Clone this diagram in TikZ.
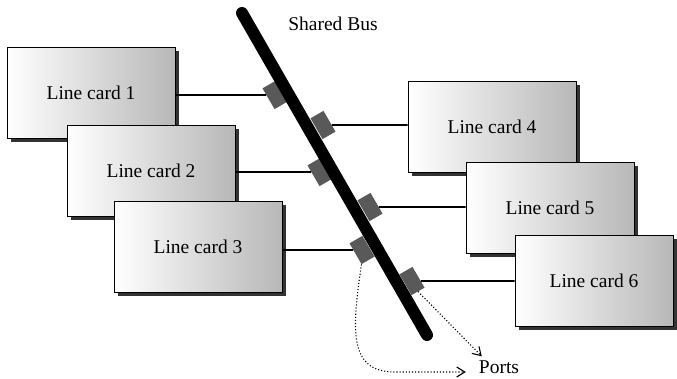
\documentclass[tikz,border=0pt]{standalone}
\usepackage{fontspec}
\setmainfont{Liberation Serif}
\usetikzlibrary{shadows,arrows.meta}
\begin{document}
\begin{tikzpicture}[x=1pt,y=-1pt,
  card/.style={draw=black, line width=0.9pt, minimum width=168pt, minimum height=91pt,
    left color=white, right color=black!28, inner sep=0pt,
    drop shadow={shadow xshift=3.5pt, shadow yshift=-3.5pt, fill=black!80, opacity=1},
    font=\fontsize{19.5}{22}\selectfont},
  tap/.style={fill=black!65, minimum width=15pt, minimum height=24pt, inner sep=0pt, rotate=30},
  link/.style={line width=1.8pt},
  bus/.style={line width=12pt, line cap=round},
  port/.style={dotted, line width=1.1pt, -{Straight Barb[length=8pt,width=10pt]}},
  lbl/.style={font=\fontsize{19.5}{22}\selectfont, inner sep=2pt}]
\useasboundingbox (0,0) rectangle (677,379);

% taps
\node[tap] (t1) at (275,95) {};
\node[tap] (t4) at (323,125) {};
\node[tap] (t2) at (320,172) {};
\node[tap] (t5) at (370,207) {};
\node[tap] (t3) at (362,250) {};
\node[tap] (t6) at (412,281) {};

% bus
\coordinate (btop) at (242,13);
\coordinate (bbot) at (427,335);
\draw[bus] (btop) -- (bbot);

% cards
\node[card] (c1) at (91,93) {Line card 1};
\node[card] (c2) at (151,171) {Line card 2};
\node[card] (c3) at (198,247) {Line card 3};
\node[card] (c4) at (492,127) {Line card 4};
\node[card] (c5) at (550,208) {Line card 5};
\node[card, minimum width=158pt] (c6) at (594,281) {Line card 6};

% links
\draw[link] (c1.east |- t1) -- (t1);
\draw[link] (c2.east |- t2) -- (t2);
\draw[link] (c3.east |- t3) -- (t3);
\draw[link] (c4.west |- t4) -- (t4);
\draw[link] (c5.west |- t5) -- (t5);
\draw[link] (c6.west |- t6) -- (t6);

% labels
\node[lbl] (bl) at (333,24) {Shared Bus};
\node[lbl] (ports) at (499,367) {Ports};

% ports arrows
\draw[port] (t3.south west) .. controls (352,330) and (348,372) .. (395,372) -- ([xshift=-11pt,yshift=-5pt]ports.west);
\draw[port] (t6.south) -- ([xshift=5pt,yshift=2pt]ports.north west);
\end{tikzpicture}
\end{document}
